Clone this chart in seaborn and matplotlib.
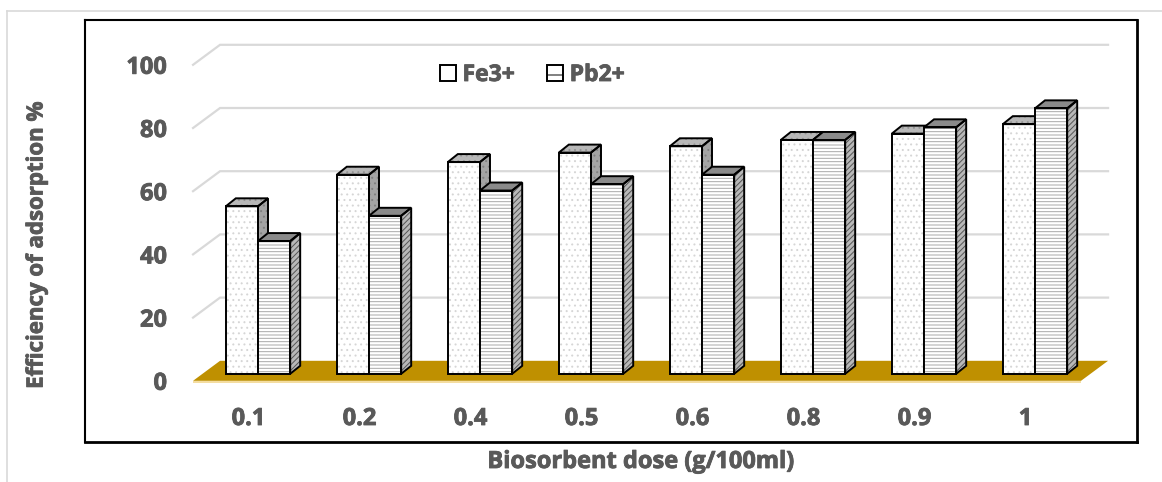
import numpy as np
import pandas as pd
import matplotlib
matplotlib.use("Agg")
import matplotlib.pyplot as plt
import matplotlib.patheffects as pe
from matplotlib.patches import Polygon, Rectangle, Patch
from matplotlib.lines import Line2D
import seaborn as sns

# Adsorption efficiency (%) per biosorbent dose
doses = ["0.1", "0.2", "0.4", "0.5", "0.6", "0.8", "0.9", "1"]
fe3 = [53, 63, 67, 70, 72, 74, 76, 79]
pb2 = [42, 50, 58, 60, 63, 74, 78, 84]
ions = ["Fe3+", "Pb2+"]
y_ticks = [0, 20, 40, 60, 80, 100]

df = pd.DataFrame({
    "dose": doses * 2,
    "efficiency": fe3 + pb2,
    "ion": [ions[0]] * len(doses) + [ions[1]] * len(doses),
})

TEXT = "#595959"
GRID = "#d9d9d9"
FLOOR = "#bf9000"
HEAVY = [pe.withStroke(linewidth=0.6, foreground=TEXT)]

plt.rcParams["font.family"] = ["Open Sans", "DejaVu Sans"]
plt.rcParams["font.weight"] = "bold"
plt.rcParams["hatch.linewidth"] = 0.7

W, H = 1162, 482
fig = plt.figure(figsize=(W / 100, H / 100), dpi=100)
fig.patch.set_facecolor("white")

# plot box (pixels from the top-left corner)
bx0, bx1, by0, by1 = 85, 1137, 20, 442
ax = fig.add_axes([bx0 / W, 1 - by1 / H, (bx1 - bx0) / W, (by1 - by0) / H])

sns.barplot(data=df, x="dose", y="efficiency", hue="ion", order=doses,
            hue_order=ions, palette={ions[0]: "white", ions[1]: "white"},
            saturation=1, width=0.58, errorbar=None, legend=False, ax=ax)

# scale: pixels per category slot / per percent, in the plane of the bar fronts
SLOT_PX, UNIT_PX = 111.0, 3.16
x0_px, base_px = 258.0, 373.8
ax.set_xlim((bx0 - x0_px) / SLOT_PX, (bx1 - x0_px) / SLOT_PX)
ax.set_ylim(-(by1 - base_px) / UNIT_PX, (base_px - by0) / UNIT_PX)


def depth(f):
    """Oblique offset of a plane lying a fraction f of the floor depth behind the bars."""
    return np.array([27 * f / SLOT_PX, 20 * f / UNIT_PX])


front = depth(-0.35)
back = depth(0.65)
bar_d = np.array([10 / SLOT_PX, 8 / UNIT_PX])

left, right = -0.5, len(doses) - 0.5

# floor
floor = [(left + front[0], front[1]), (right + front[0], front[1]),
         (right + back[0], back[1]), (left + back[0], back[1])]
ax.add_patch(Polygon(floor, closed=True, facecolor=FLOOR, edgecolor="none", zorder=1))
ax.plot([left + front[0], right + front[0]], [front[1] - 0.3] * 2,
        color="#f2d78f", lw=1.2, zorder=1.1, solid_capstyle="butt")

# wall gridlines
for v in y_ticks[1:]:
    ax.plot([left + front[0], left + back[0], right + back[0]],
            [v + front[1], v + back[1], v + back[1]],
            color=GRID, lw=1.6, zorder=0.5, solid_joinstyle="miter")

styles = {
    ions[0]: dict(front=("white", "#d6d6d6", "..."),
                  top=("#b8b8b8", "#939393", "..."),
                  side=("#a4a4a4", "#808080", "..."), z=3),
    ions[1]: dict(front=("white", "#a8a8a8", "-----"),
                  top=("#8a8a8a", "#6a6a6a", ""),
                  side=("#b8b8b8", "#555555", "//////"), z=5),
}

EDGE_LW = 1.4
for ion, container in zip(ions, ax.containers):
    st = styles[ion]
    for bar in container:
        x, w, h = bar.get_x(), bar.get_width(), bar.get_height()
        fc, hc, hatch = st["front"]
        bar.set_facecolor(fc)
        bar.set_edgecolor(hc)
        bar.set_hatch(hatch)
        bar.set_linewidth(0)
        bar.set_zorder(st["z"])
        top = [(x, h), (x + w, h), (x + w + bar_d[0], h + bar_d[1]), (x + bar_d[0], h + bar_d[1])]
        side = [(x + w, 0), (x + w, h), (x + w + bar_d[0], h + bar_d[1]), (x + w + bar_d[0], bar_d[1])]
        for pts, key in ((top, "top"), (side, "side")):
            fc, hc, hatch = st[key]
            ax.add_patch(Polygon(pts, closed=True, facecolor=fc, edgecolor=hc,
                                 hatch=hatch, lw=0, zorder=st["z"]))
            ax.add_patch(Polygon(pts, closed=True, fill=False, edgecolor="black",
                                 lw=EDGE_LW, joinstyle="miter", zorder=st["z"] + 0.5))
        ax.add_patch(Rectangle((x, 0), w, h, fill=False, edgecolor="black",
                               lw=EDGE_LW, joinstyle="miter", zorder=st["z"] + 0.5))

# tick labels sit inside the frame, on the front edge of the floor
ax.set_yticks([v + front[1] for v in y_ticks], [str(v) for v in y_ticks])
ax.set_xticks([i + front[0] for i in range(len(doses))], doses)
ax.tick_params(axis="y", length=0, pad=-(167 - bx0) * 0.72, labelsize=17, labelcolor=TEXT)
ax.tick_params(axis="x", length=0, pad=-(by1 - 407) * 0.72, labelsize=17, labelcolor=TEXT)
for lab in ax.get_xticklabels() + ax.get_yticklabels():
    lab.set_fontweight("bold")
    lab.set_path_effects(HEAVY)

for name, sp in ax.spines.items():
    sp.set_visible(True)
    sp.set_color("black")
    sp.set_linewidth(2.0 if name in ("right", "bottom") else 1.5)
ax.set_facecolor("white")
ax.grid(False)

ax.set_xlabel("Biosorbent dose (g/100ml)", fontsize=17, fontweight="bold", color=TEXT,
              path_effects=HEAVY)
ax.xaxis.set_label_coords((641 - bx0) / (bx1 - bx0), (by1 - 462) / (by1 - by0))
ax.xaxis.label.set_va("center")
ax.set_ylabel("Efficiency of adsorption %", fontsize=16, fontweight="bold", color=TEXT,
              path_effects=HEAVY)
ax.yaxis.set_label_coords((37 - bx0) / (bx1 - bx0), (by1 - 245) / (by1 - by0))
ax.yaxis.label.set_va("center")

handles = [
    Patch(facecolor="white", edgecolor="black", lw=1.4, label=ions[0]),
    Patch(facecolor="white", edgecolor="black", hatch="-", lw=1.4, label=ions[1]),
]
leg = fig.legend(handles=handles, loc="center", bbox_to_anchor=(532 / W, 1 - 75 / H),
                 ncol=2, frameon=False, prop=dict(weight="bold", size=16.5),
                 labelcolor=TEXT, handlelength=0.7, handleheight=0.7,
                 handletextpad=0.3, columnspacing=1.4)
for t in leg.get_texts():
    t.set_path_effects(HEAVY)

# light outer chart border
fig.add_artist(Line2D([7 / W, 7 / W], [0, 1 - 11 / H], color=GRID, lw=1.2,
                      transform=fig.transFigure))
fig.add_artist(Line2D([7 / W, 1], [1 - 11 / H] * 2, color=GRID, lw=1.2,
                      transform=fig.transFigure))

fig.savefig("out.png", dpi=100)
